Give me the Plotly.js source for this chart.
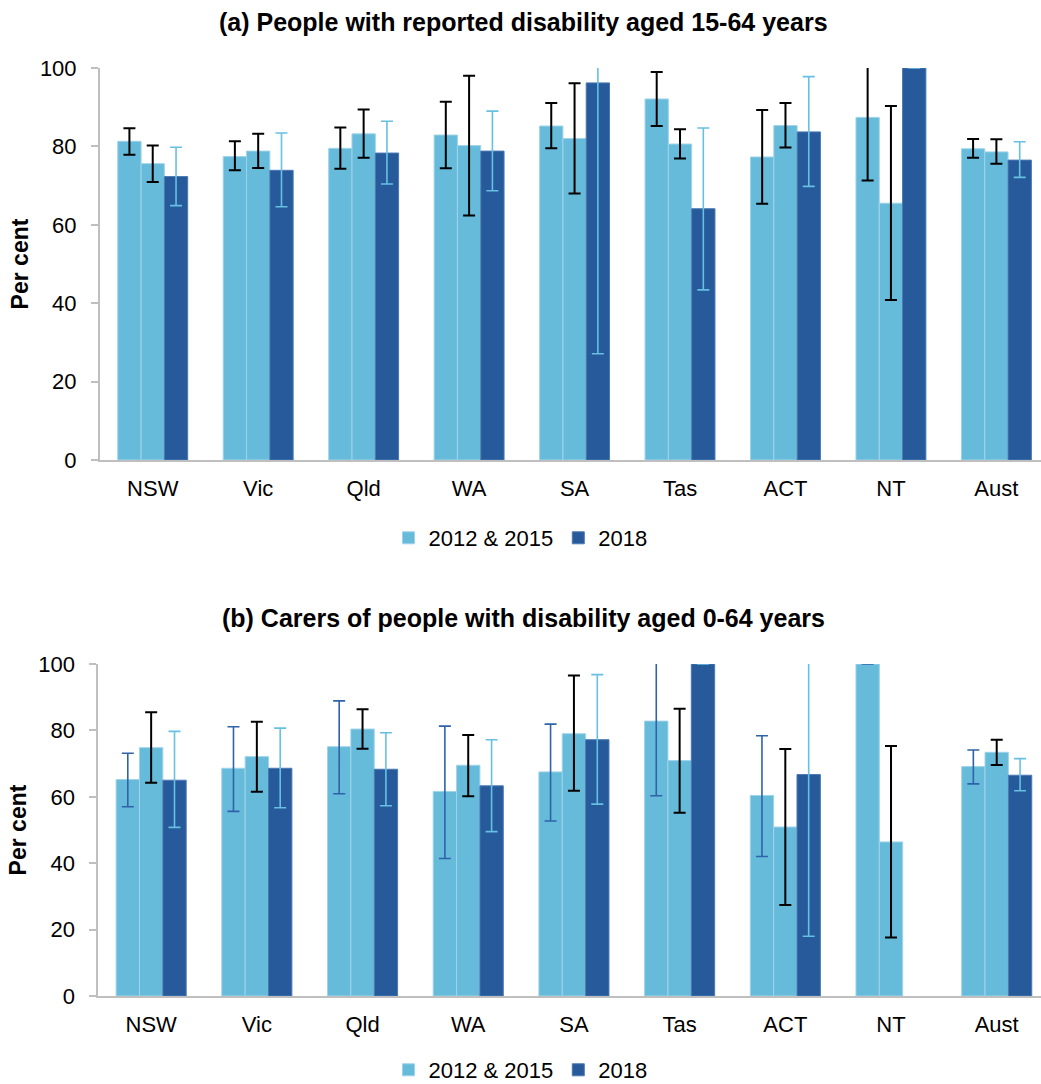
<!DOCTYPE html>
<html>
<head>
<meta charset="utf-8">
<script src="https://cdn.plot.ly/plotly-3.0.1.min.js"></script>
<style>html,body{margin:0;padding:0;background:#fff;}#chart{width:1041px;height:1084px;}</style>
</head>
<body>
<div id="chart"></div>
<script>
const categories = ['NSW','Vic','Qld','WA','SA','Tas','ACT','NT','Aust'];

// Panel (a): People with reported disability aged 15-64 years
const a2012   = [81.3, 77.4, 79.5, 82.9, 85.2, 92.1, 77.3, 87.4, 79.4];
const a2012Hi = [84.6, 81.3, 84.8, 91.4, 91.1, 99.0, 89.3, 103.5, 81.9];
const a2012Lo = [77.9, 73.9, 74.3, 74.4, 79.5, 85.2, 65.4, 71.3, 77.1];
const a2015   = [75.6, 78.8, 83.2, 80.2, 82.0, 80.6, 85.3, 65.5, 78.6];
const a2015Hi = [80.2, 83.2, 89.4, 98.0, 96.1, 84.4, 91.1, 90.3, 81.8];
const a2015Lo = [70.9, 74.5, 77.1, 62.4, 68.0, 76.9, 79.7, 40.8, 75.6];
const a2018   = [72.3, 73.9, 78.3, 78.8, 96.2, 64.1, 83.7, 100, 76.5];
const a2018Hi = [79.8, 83.4, 86.4, 89.0, 165.3, 84.7, 97.8, 100, 81.2];
const a2018Lo = [64.9, 64.6, 70.4, 68.7, 27.1, 43.4, 69.8, 100, 72.1];

// Panel (b): Carers of people with disability aged 0-64 years
const b2012   = [65.2, 68.6, 75.1, 61.6, 67.5, 82.8, 60.4, 100, 69.1];
const b2012Hi = [73.1, 81.1, 88.9, 81.3, 81.9, 105.3, 78.4, 100, 74.1];
const b2012Lo = [57.0, 55.6, 60.9, 41.4, 52.7, 60.3, 42.0, 100, 63.9];
const b2015   = [74.8, 72.1, 80.4, 69.5, 79.0, 70.9, 50.9, 46.4, 73.4];
const b2015Hi = [85.5, 82.6, 86.4, 78.6, 96.5, 86.5, 74.4, 75.3, 77.2];
const b2015Lo = [64.2, 61.5, 74.5, 60.2, 61.8, 55.2, 27.4, 17.6, 69.6];
const b2018   = [65.0, 68.6, 68.3, 63.3, 77.2, 100, 66.7, null, 66.5];
const b2018Hi = [79.7, 80.7, 79.3, 77.2, 96.8, null, 115.4, null, 71.5];
const b2018Lo = [50.8, 56.7, 57.3, 49.5, 57.8, null, 18.0, null, 61.8];

const legendNames = ['2012 & 2015', '2018'];

const LIGHT = '#66bbdb';
const DARK = '#275a9b';
const ERR_LIGHT = '#66c0e2';
const ERR_DARK = '#2f63a8';
const FONT = 'Liberation Sans, Arial, sans-serif';

function plus(v, hi) { return v.map((d, i) => (d == null || hi[i] == null) ? null : hi[i] - d); }
function minus(v, lo) { return v.map((d, i) => (d == null || lo[i] == null) ? null : d - lo[i]); }

function barTrace(vals, hi, lo, color, lineColor, errColor, errThick, name, showleg, xa, ya, leg) {
  return {
    type: 'bar', x: categories, y: vals, name: name, showlegend: showleg,
    xaxis: xa, yaxis: ya, legend: leg,
    marker: { color: color, line: { color: lineColor, width: 1 } },
    error_y: { type: 'data', symmetric: false, array: plus(vals, hi), arrayminus: minus(vals, lo),
               color: errColor, thickness: errThick, width: 6 },
    hoverinfo: 'skip'
  };
}

const data = [
  barTrace(a2012, a2012Hi, a2012Lo, LIGHT, '#9fd3e8', '#000000', 2, legendNames[0], true, 'x', 'y', 'legend'),
  barTrace(a2015, a2015Hi, a2015Lo, LIGHT, '#9fd3e8', '#000000', 2, legendNames[0], false, 'x', 'y', 'legend'),
  barTrace(a2018, a2018Hi, a2018Lo, DARK, '#4b79b2', ERR_LIGHT, 1.6, legendNames[1], true, 'x', 'y', 'legend'),
  barTrace(b2012, b2012Hi, b2012Lo, LIGHT, '#9fd3e8', ERR_DARK, 1.6, legendNames[0], true, 'x2', 'y2', 'legend2'),
  barTrace(b2015, b2015Hi, b2015Lo, LIGHT, '#9fd3e8', '#000000', 2, legendNames[0], false, 'x2', 'y2', 'legend2'),
  barTrace(b2018, b2018Hi, b2018Lo, DARK, '#4b79b2', ERR_LIGHT, 1.6, legendNames[1], true, 'x2', 'y2', 'legend2')
];

const H = 1084, W = 1041;
function py(p) { return 1 - p / H; }

const xaxisBase = {
  type: 'category', showline: true, linecolor: '#bfbfbf', linewidth: 2,
  ticks: '', showgrid: false, zeroline: false, ticklabelstandoff: 8,
  tickfont: { family: FONT, size: 22, color: '#000' }, fixedrange: true
};
const yaxisBase = {
  range: [0, 100], tickvals: [0, 20, 40, 60, 80, 100], showline: true, linecolor: '#bfbfbf', linewidth: 2,
  ticks: 'outside', ticklen: 7, tickcolor: '#bfbfbf', tickwidth: 2, showgrid: false, zeroline: false,
  tickfont: { family: FONT, size: 22, color: '#000' }, ticklabelstandoff: 10,
  title: { text: '<b>Per cent</b>', font: { family: FONT, size: 23, color: '#000' }, standoff: 5 },
  fixedrange: true
};

const layout = {
  width: W, height: H,
  margin: { l: 0, r: 0, t: 0, b: 0, autoexpand: false },
  paper_bgcolor: '#fff', plot_bgcolor: '#fff',
  barmode: 'group', bargap: 0.337, bargroupgap: 0,
  showlegend: true,
  xaxis: Object.assign({}, xaxisBase, { domain: [100 / W, 1], range: [-0.5, 8.423], anchor: 'y' }),
  yaxis: Object.assign({}, yaxisBase, { domain: [py(460), py(68)], anchor: 'x' }),
  xaxis2: Object.assign({}, xaxisBase, { domain: [98.3 / W, 1], range: [-0.5, 8.419], anchor: 'y2' }),
  yaxis2: Object.assign({}, yaxisBase, { domain: [py(996), py(664)], anchor: 'x2' }),
  legend: { orientation: 'h', x: 0.5, xanchor: 'center', y: py(538), yanchor: 'middle',
            font: { family: FONT, size: 22, color: '#000' }, itemwidth: 30, traceorder: 'normal' },
  legend2: { orientation: 'h', x: 0.5, xanchor: 'center', y: py(1070), yanchor: 'middle',
             font: { family: FONT, size: 22, color: '#000' }, itemwidth: 30, traceorder: 'normal' },
  annotations: [
    { text: '<b>(a) People with reported disability aged 15-64 years</b>', xref: 'paper', yref: 'paper',
      x: 523 / W, y: py(22), xanchor: 'center', yanchor: 'middle', showarrow: false,
      font: { family: FONT, size: 25, color: '#000' } },
    { text: '<b>(b) Carers of people with disability aged 0-64 years</b>', xref: 'paper', yref: 'paper',
      x: 523 / W, y: py(618), xanchor: 'center', yanchor: 'middle', showarrow: false,
      font: { family: FONT, size: 25, color: '#000' } }
  ]
};

Plotly.newPlot('chart', data, layout, { displayModeBar: false, staticPlot: true });
</script>
</body>
</html>
